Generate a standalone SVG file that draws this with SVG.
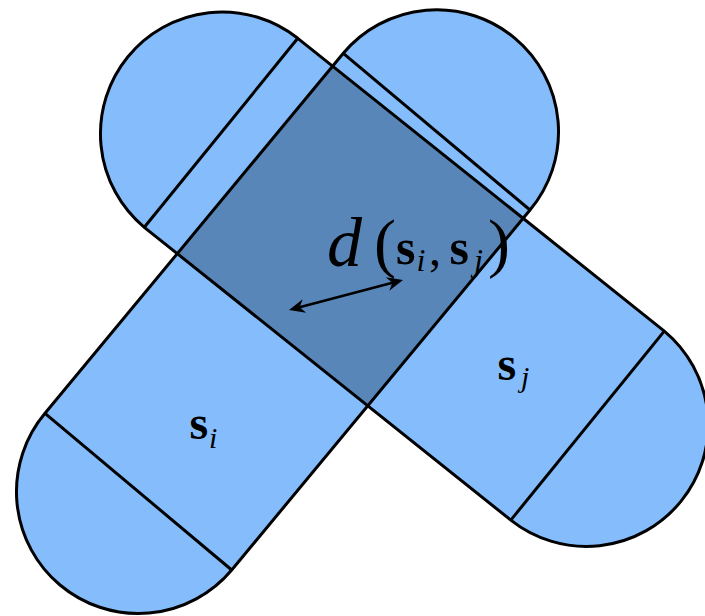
<svg xmlns="http://www.w3.org/2000/svg" width="705" height="616" viewBox="0 0 705 616">
  <defs>
    <style>
      .fill { fill: #85BDFC; stroke: none; }
      .over { fill: #5986B8; stroke: none; }
      .edge { fill: none; stroke: #000; stroke-width: 3; stroke-linejoin: round; }
      .math { font-family: "Liberation Serif", "Times New Roman", serif; fill: #000; }
      .it { font-style: italic; }
      .bf { font-weight: bold; }
      .arrow { stroke: #000; stroke-width: 2.5; fill: none; }
    </style>
    <marker id="head" markerUnits="userSpaceOnUse" markerWidth="20" markerHeight="20" refX="-6" refY="0" orient="auto-start-reverse" overflow="visible">
      <path d="M0,0 L-16,-7 L-11,0 L-16,7 Z" fill="#000"/>
    </marker>
  </defs>

  <!-- fills -->
  <g id="fills">
    <path class="fill" d="M45,413.3 L343.3,53.3 A121.85,121.85 0 0 1 530,210 L231.7,570 A121.85,121.85 0 0 1 45,413.3 Z"/>
    <path class="fill" d="M297.8,38.3 L664.3,331.1 A121.75,121.75 0 0 1 510.8,520.1 L144.3,227.3 A121.75,121.75 0 0 1 297.8,38.3 Z"/>
    <polygon id="overlap" class="over" points="177.3,253.6 332.7,66.2 523.1,218.3 367.8,405.8"/>
  </g>

  <!-- capsule s_i -->
  <g id="capsule-si">
    <path class="edge" d="M45,413.3 L343.3,53.3 A121.85,121.85 0 0 1 530,210 L231.7,570 A121.85,121.85 0 0 1 45,413.3 Z"/>
    <line class="edge" x1="45" y1="413.3" x2="231.7" y2="570"/>
    <line class="edge" x1="343.3" y1="53.3" x2="530" y2="210"/>
    <text class="math" y="439"><tspan class="bf" x="189.5" font-size="48">s</tspan><tspan class="it" x="209" y="448" font-size="30">i</tspan></text>
  </g>

  <!-- capsule s_j -->
  <g id="capsule-sj">
    <path class="edge" d="M297.8,38.3 L664.3,331.1 A121.75,121.75 0 0 1 510.8,520.1 L144.3,227.3 A121.75,121.75 0 0 1 297.8,38.3 Z"/>
    <line class="edge" x1="297.8" y1="38.3" x2="144.3" y2="227.3"/>
    <line class="edge" x1="664.3" y1="331.1" x2="510.8" y2="520.1"/>
    <text class="math" y="380"><tspan class="bf" x="497.5" font-size="48">s</tspan><tspan class="it" x="521" y="387" font-size="30">j</tspan></text>
  </g>

  <!-- distance connector -->
  <g id="connectors">
    <line class="arrow" x1="294.8" y1="308.5" x2="397.2" y2="281.5" marker-start="url(#head)" marker-end="url(#head)"/>
  </g>

  <g id="label-distance">
    <text class="math">
      <tspan class="it" x="327" y="266" font-size="70">d</tspan>
      <tspan x="374" y="265" font-size="66">(</tspan>
      <tspan class="bf" x="396" y="264" font-size="50">s</tspan>
      <tspan class="it" x="416.5" y="271" font-size="32">i</tspan>
      <tspan x="429" y="265" font-size="48">,</tspan>
      <tspan class="bf" x="449.5" y="264" font-size="50">s</tspan>
      <tspan class="it" x="474" y="271" font-size="32">j</tspan>
      <tspan x="488" y="265" font-size="66">)</tspan>
    </text>
  </g>
</svg>
